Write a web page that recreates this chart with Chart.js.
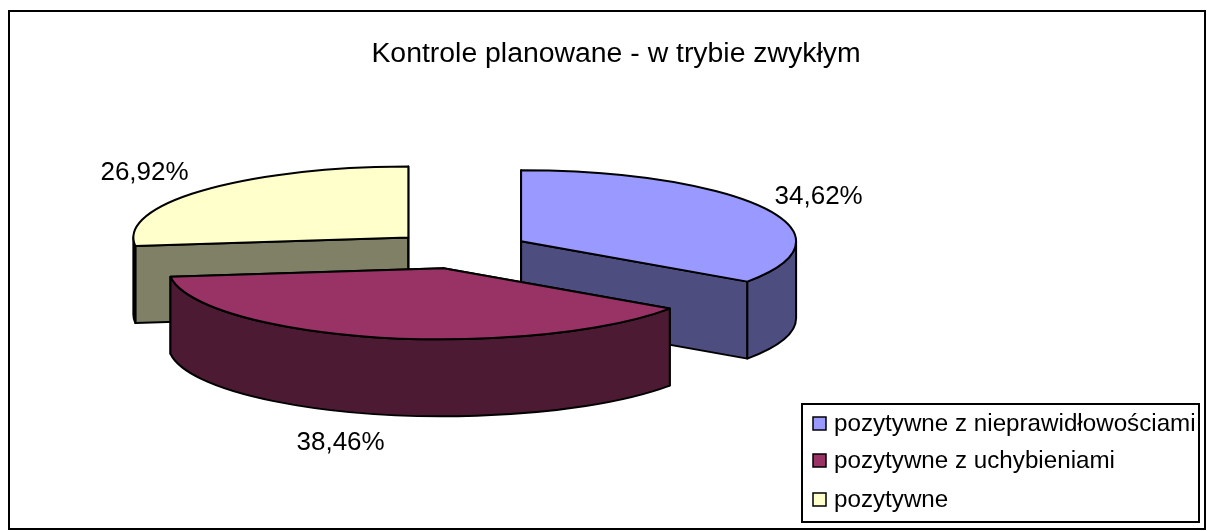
<!DOCTYPE html>
<html>
<head>
<meta charset="utf-8">
<title>Kontrole planowane</title>
<script src="https://cdn.jsdelivr.net/npm/chart.js@4"></script>
<style>
    html, body { margin: 0; padding: 0; background: #fff; }
    #wrap { width: 1207px; height: 531px; }
</style>
</head>
<body>
<div id="wrap"><canvas id="myChart" width="1207" height="531"></canvas></div>
<script>
const TITLE_TEXT = 'Kontrole planowane - w trybie zwykłym';
const CATEGORIES = ['pozytywne z nieprawidłowościami', 'pozytywne z uchybieniami', 'pozytywne'];
const SERIES_VALUES = [34.62, 38.46, 26.92];

const TOP_COLORS = ['#9999FF', '#993366', '#FFFFCC'];
const WALL_COLORS = ['#4D4D80', '#4D1A33', '#808066'];

// the fake 3d look
const PIE_CENTER = { x: 460, y: 250 };
const PIE_RADIUS = 275;
const SQUASH = 71 / 275;
const EXPLODE_X = 69;
const EXPLODE_Y = 18.8;
const DEPTH = 77;
const DRAW_ORDER = [0, 2, 1];

// where the percent labels sit, relative to the rim point of each slice
const LABEL_OFFSETS = [[54, -11], [-37, 29], [-58, -18]];

const FONT_NAME = '"Liberation Sans", Arial, sans-serif';

function sliceOrigin(arc) {
    let mid = (arc.startAngle + arc.endAngle) / 2;
    return {
        x: PIE_CENTER.x + Math.cos(mid) * EXPLODE_X,
        y: PIE_CENTER.y + Math.sin(mid) * EXPLODE_Y
    };
}

function rimPoint(arc, angle) {
    let origin = sliceOrigin(arc);
    return {
        x: origin.x + Math.cos(angle) * arc.outerRadius,
        y: origin.y + Math.sin(angle) * arc.outerRadius * SQUASH
    };
}

function paintPath(ctx, color) {
    ctx.fillStyle = color;
    ctx.fill();
    ctx.stroke();
}

// flat side of a slice, from the centre to the rim
function drawCutFace(ctx, arc, angle, color) {
    let origin = sliceOrigin(arc);
    let rim = rimPoint(arc, angle);
    ctx.beginPath();
    ctx.moveTo(origin.x, origin.y);
    ctx.lineTo(rim.x, rim.y);
    ctx.lineTo(rim.x, rim.y + DEPTH);
    ctx.lineTo(origin.x, origin.y + DEPTH);
    ctx.closePath();
    paintPath(ctx, color);
}

// round side of a slice, only the part that faces the viewer
function drawRimWall(ctx, arc, color) {
    let from = Math.max(arc.startAngle, 0);
    let to = Math.min(arc.endAngle, Math.PI);
    if (to <= from) return;
    let origin = sliceOrigin(arc);
    let rx = arc.outerRadius;
    let ry = rx * SQUASH;
    ctx.beginPath();
    ctx.ellipse(origin.x, origin.y, rx, ry, 0, from, to);
    ctx.ellipse(origin.x, origin.y + DEPTH, rx, ry, 0, to, from, true);
    ctx.closePath();
    paintPath(ctx, color);
}

function drawTop(ctx, arc) {
    let origin = sliceOrigin(arc);
    ctx.save();
    ctx.translate(origin.x, origin.y);
    ctx.scale(1, SQUASH);
    ctx.translate(-arc.x, -arc.y);
    arc.draw(ctx);
    ctx.restore();

    ctx.beginPath();
    ctx.moveTo(origin.x, origin.y);
    ctx.ellipse(origin.x, origin.y, arc.outerRadius, arc.outerRadius * SQUASH, 0, arc.startAngle, arc.endAngle);
    ctx.closePath();
    ctx.stroke();
}

const piePerspective = {
    id: 'piePerspective',
    beforeDatasetDraw(chart, args) {
        let ctx = chart.ctx;
        let arcs = chart.getDatasetMeta(args.index).data;
        ctx.save();
        ctx.strokeStyle = '#000';
        ctx.lineWidth = 2;
        ctx.lineJoin = 'round';
        DRAW_ORDER.forEach(i => {
            let arc = arcs[i];
            drawCutFace(ctx, arc, arc.startAngle, WALL_COLORS[i]);
            drawCutFace(ctx, arc, arc.endAngle, WALL_COLORS[i]);
            drawRimWall(ctx, arc, WALL_COLORS[i]);
            drawTop(ctx, arc);
        });
        ctx.restore();
        return false;
    },
    afterDatasetsDraw(chart) {
        let ctx = chart.ctx;
        let arcs = chart.getDatasetMeta(0).data;
        ctx.save();
        ctx.fillStyle = '#000';
        ctx.font = '26px ' + FONT_NAME;
        ctx.textAlign = 'center';
        ctx.textBaseline = 'middle';
        arcs.forEach((arc, i) => {
            let mid = (arc.startAngle + arc.endAngle) / 2;
            let rim = rimPoint(arc, mid);
            let rimY = rim.y + (Math.sin(mid) > 0.5 ? DEPTH : 0);
            let text = SERIES_VALUES[i].toFixed(2).replace('.', ',') + '%';
            ctx.fillText(text, rim.x + LABEL_OFFSETS[i][0], rimY + LABEL_OFFSETS[i][1]);
        });
        ctx.restore();
    }
};

const chartFrame = {
    id: 'chartFrame',
    beforeDraw(chart) {
        let ctx = chart.ctx;
        ctx.save();
        ctx.fillStyle = '#fff';
        ctx.fillRect(0, 0, chart.width, chart.height);
        ctx.strokeStyle = '#000';
        ctx.lineWidth = 2;
        ctx.strokeRect(9, 11, 1196, 518);
        ctx.restore();
    }
};

const boxLegend = {
    id: 'boxLegend',
    afterDraw(chart) {
        let ctx = chart.ctx;
        const rowY = [424, 461, 500];
        ctx.save();
        ctx.fillStyle = '#fff';
        ctx.strokeStyle = '#000';
        ctx.lineWidth = 2;
        ctx.fillRect(802, 404, 397, 118);
        ctx.strokeRect(802, 404, 397, 118);
        ctx.font = '24.2px ' + FONT_NAME;
        ctx.textBaseline = 'middle';
        CATEGORIES.forEach((name, i) => {
            ctx.fillStyle = TOP_COLORS[i];
            ctx.fillRect(813, rowY[i] - 7, 13, 13);
            ctx.lineWidth = 1.5;
            ctx.strokeRect(813, rowY[i] - 7, 13, 13);
            ctx.fillStyle = '#000';
            ctx.fillText(name, 834, rowY[i]);
        });
        ctx.restore();
    }
};

new Chart(document.getElementById('myChart'), {
    type: 'pie',
    data: {
        labels: CATEGORIES,
        datasets: [{
            data: SERIES_VALUES,
            backgroundColor: TOP_COLORS,
            borderWidth: 0,
            radius: PIE_RADIUS
        }]
    },
    options: {
        responsive: false,
        animation: false,
        layout: { padding: { left: 25 } },
        plugins: {
            legend: { display: false },
            tooltip: { enabled: false },
            title: {
                display: true,
                text: TITLE_TEXT,
                color: '#000',
                font: { family: FONT_NAME, size: 28.4, weight: 'normal' },
                padding: { top: 37, bottom: 10 }
            }
        }
    },
    plugins: [chartFrame, piePerspective, boxLegend]
});
</script>
</body>
</html>
